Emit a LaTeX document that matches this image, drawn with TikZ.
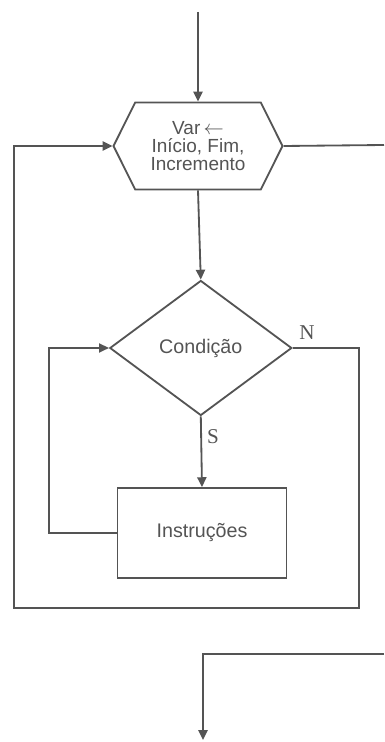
\documentclass[tikz,border=0pt]{standalone}
\usepackage{fontspec}
\setmainfont{Liberation Sans}
\newfontfamily\serifnl{Liberation Serif}
\usetikzlibrary{shapes.geometric, shapes.symbols, arrows.meta, positioning}
\definecolor{ink}{gray}{0.33}

\begin{document}
\begin{tikzpicture}[
    line/.style={draw=ink, line width=1.3pt},
    arrow/.style={line, -{Triangle[length=7pt, width=6.5pt]}},
    loopbox/.style={line, signal, signal to=west and east, signal pointer angle=127,
        minimum width=4.225cm, minimum height=2.175cm, inner sep=0pt, align=center,
        text=ink, font=\fontsize{13.5}{13}\selectfont},
    decision/.style={line, diamond, minimum width=4.55cm, minimum height=3.375cm,
        inner sep=0pt, text=ink, font=\fontsize{14}{14}\selectfont},
    process/.style={line, rectangle, minimum width=4.225cm, minimum height=2.25cm,
        text=ink, font=\fontsize{14}{14}\selectfont},
    lbl/.style={text=ink, font=\serifnl\fontsize{15}{15}\selectfont}
]
\useasboundingbox (0,0) rectangle (9.6,18.55);

% Blocks
\node[loopbox] (hex) at (4.95,14.9) {Var\,$\leftarrow$\\Início, Fim,\\Incremento};
\node[decision] (cond) at (5.02,9.85) {Condição};
\node[process] (instr) at (5.05,5.225) {Instruções};

% Free ends
\coordinate (start) at (4.95,18.25);
\coordinate (out) at (9.6,14.925);
\coordinate (nr) at (8.975,3.35);
\coordinate (nl) at (0.35,3.35);
\coordinate (back) at (9.6,2.2);
\coordinate (exit) at (5.075,0.05);

% Branch labels
\node[lbl] (nlab) at (7.675,10.225) {N};
\node[lbl] (slab) at (5.325,7.625) {S};

% Flow
\draw[arrow] (start) -- (hex.north);
\draw[arrow] (hex.south) -- (cond.north);
\draw[arrow] (cond.south) -- (instr.north);
\draw[arrow] (instr.west) -- ++(-1.7,0) |- (cond.west);
\draw[arrow] (cond.east) -| (nr) -- (nl) |- (hex.west);
\draw[line] (hex.east) -- (out);
\draw[arrow] (back) -| (exit);
\end{tikzpicture}
\end{document}
